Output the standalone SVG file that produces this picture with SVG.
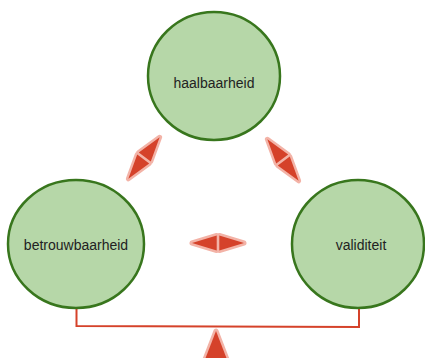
<svg xmlns="http://www.w3.org/2000/svg" xmlns:xlink="http://www.w3.org/1999/xlink" width="425" height="358" viewBox="0 0 425 358">
<defs>
<style>
.node{fill:#b6d7a8;stroke:#38761d;stroke-width:2.5}
.label{font-family:"Liberation Sans",Arial,sans-serif;font-size:14px;fill:#222;text-anchor:middle}
.arr{fill:#d5422a;stroke:#f3b3a7;stroke-width:5;stroke-linejoin:round;paint-order:stroke}
.line{fill:none;stroke:#d5422a;stroke-width:2}
</style>
<path id="dbl" class="arr" d="M-26,0 L-1.3,-7.5 L-1.3,7.5 Z M26,0 L1.3,-7.5 L1.3,7.5 Z"/>
</defs>
<rect width="425" height="358" fill="#ffffff"/>
<g id="connectors">
<use xlink:href="#dbl" transform="translate(144,158) rotate(-53)"/>
<use xlink:href="#dbl" transform="translate(283,160) rotate(53)"/>
<use xlink:href="#dbl" transform="translate(218,243)"/>
<path class="line" d="M76.5,307 V326 L359,327 V307"/>
<path class="arr" d="M216,331 L204,362 L228,362 Z"/>
</g>
<g id="node-haalbaarheid">
<ellipse class="node" cx="214" cy="76" rx="66" ry="64"/>
<text class="label" x="214" y="88">haalbaarheid</text>
</g>
<g id="node-betrouwbaarheid">
<ellipse class="node" cx="76" cy="244" rx="68" ry="64"/>
<text class="label" x="76" y="250">betrouwbaarheid</text>
</g>
<g id="node-validiteit">
<ellipse class="node" cx="358" cy="244" rx="66" ry="64"/>
<text class="label" x="361" y="250">validiteit</text>
</g>
</svg>
